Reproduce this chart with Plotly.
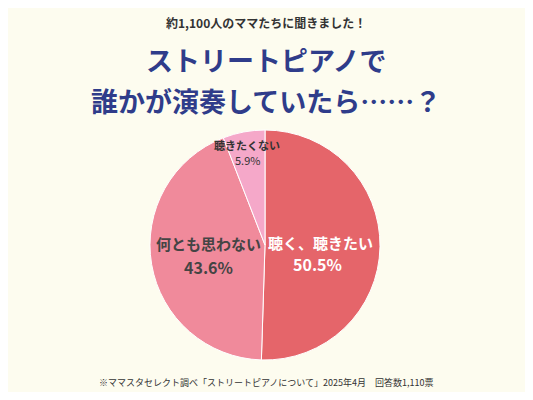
import plotly.graph_objects as go

labels = ["聴く、聴きたい", "何とも思わない", "聴きたくない"]
values = [50.5, 43.6, 5.9]
colors = ["#e5656a", "#f08a9b", "#f5a8c9"]

# page has an 8px body margin, so the figure is drawn at 517x384
OFF = 8
W, H = 517, 384

def px(x):
    return (x - OFF) / W

def py(y):
    return 1 - (y - OFF) / H

fig = go.Figure()
fig.add_trace(go.Pie(
    labels=labels, values=values, sort=False, direction="clockwise", rotation=0,
    marker=dict(colors=colors, line=dict(color="white", width=1)),
    textinfo="none", hoverinfo="label+percent", showlegend=False,
    domain=dict(x=[px(150), px(380)], y=[py(360), py(130)]),
))

def ann(text, x, y, size, color, bold=False):
    fig.add_annotation(x=px(x), y=py(y), xref="paper", yref="paper",
                       xanchor="center", yanchor="middle",
                       text=f"<b>{text}</b>" if bold else text, showarrow=False,
                       font=dict(size=size, color=color))

ann("約1,100人のママたちに聞きました！", 266, 22, 12, "#333333", True)
ann("ストリートピアノで", 266, 60, 27, "#2f3c8a", True)
ann("誰かが演奏していたら……？", 266, 100, 27, "#2f3c8a", True)
ann(labels[0], 320, 242, 15, "white", True)
ann(f"{values[0]}%", 317, 264, 16, "white", True)
ann(labels[1], 208, 243, 15, "#444444", True)
ann(f"{values[1]}%", 208, 267, 16, "#444444", True)
ann(labels[2], 247, 145, 11, "#333333", True)
ann(f"{values[2]}%", 247, 160, 11, "#333333")
ann("※ママスタセレクト調べ「ストリートピアノについて」2025年4月　回答数1,110票", 266, 382, 9, "#333333")

fig.update_layout(
    width=W, height=H, margin=dict(l=0, r=0, t=0, b=0),
    paper_bgcolor="#fdfcef", plot_bgcolor="#fdfcef",
    font=dict(family="Noto Sans CJK JP"),
)
fig.write_html("out.html")
